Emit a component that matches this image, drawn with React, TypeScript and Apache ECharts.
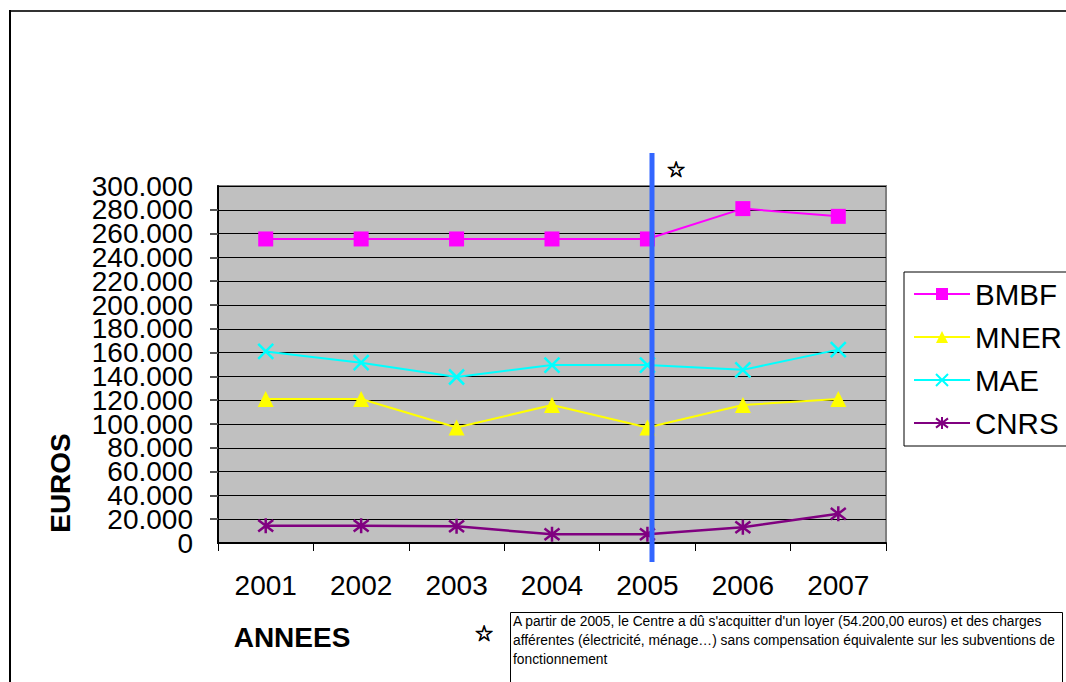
import React, { useEffect, useRef } from "react";
import * as echarts from "echarts";

const years = ["2001", "2002", "2003", "2004", "2005", "2006", "2007"];
const bmbf = [255500, 255500, 255500, 255500, 255500, 281000, 274500];
const mner = [121000, 121000, 97000, 116000, 97000, 116000, 121000];
const mae = [161000, 151500, 139500, 149500, 149500, 145500, 162500];
const cnrs = [14500, 14500, 14000, 7300, 7300, 13300, 24500];
const seriesNames = ["BMBF", "MNER", "MAE", "CNRS"];
const seriesColors = ["#FF00FF", "#FFFF00", "#00FFFF", "#800080"];
const noteLines = [
  "A partir de 2005, le Centre a dû s'acquitter d'un loyer (54.200,00 euros) et des charges",
  "afférentes (électricité, ménage…) sans compensation équivalente sur les subventions de",
  "fonctionnement",
];
const yMin = 0;
const yMax = 300000;
const yStep = 20000;

const FONT = "'Liberation Sans', Arial, sans-serif";

function fmt(v: number): string {
  if (v === 0) return "0";
  const s = String(Math.round(v));
  return s.replace(/\B(?=(\d{3})+(?!\d))/g, ".");
}

export default function App() {
  const ref = useRef<HTMLDivElement>(null);
  useEffect(() => {
    if (!ref.current) return;
    const chart = echarts.init(ref.current, null, { renderer: "svg" });
    const xPath = "path://M0,0L10,10M10,0L0,10";
    const starPath = "path://M0,0L10,10M10,0L0,10M5,-1.5L5,11.5";
    const symbols = ["rect", "triangle", xPath, starPath];
    const sizes = [15, 16, 15, 15];
    const data = [bmbf, mner, mae, cnrs];
    const labelStyle = {
      fontFamily: FONT,
      fontSize: 28,
      color: "#000",
      margin: 25,
      hideOverlap: false,
      formatter: (v: number) => fmt(v),
    };
    chart.setOption({
      animation: false,
      grid: {
        left: 218,
        top: 186,
        width: 668,
        height: 357,
        show: true,
        backgroundColor: "#C0C0C0",
        borderColor: "#808080",
        borderWidth: 2,
      },
      legend: {
        orient: "vertical",
        left: 904,
        top: 272,
        data: seriesNames,
        itemWidth: 56,
        itemHeight: 15,
        itemGap: 13,
        padding: [7, 30, 8, 9],
        borderColor: "#000",
        borderWidth: 1,
        backgroundColor: "#fff",
        textStyle: { fontFamily: FONT, fontSize: 29.5, color: "#000" },
      },
      xAxis: {
        type: "category",
        data: years,
        boundaryGap: true,
        axisLine: { show: true, lineStyle: { color: "#000", width: 2 } },
        axisTick: { show: true, length: 8, lineStyle: { color: "#000", width: 1 } },
        axisLabel: { fontFamily: FONT, fontSize: 28, color: "#000", margin: 28 },
        splitLine: { show: false },
      },
      yAxis: [
        {
          type: "value",
          position: "left",
          offset: 0,
          min: yMin,
          max: yMax,
          interval: yStep,
          axisLine: { show: true, lineStyle: { color: "#000", width: 2 } },
          axisTick: { show: true, length: 8, lineStyle: { color: "#555", width: 2 } },
          axisLabel: { ...labelStyle, showMinLabel: false, showMaxLabel: false },
          splitLine: { show: true, lineStyle: { color: "#000", width: 1 } },
        },
        {
          type: "value",
          position: "left",
          offset: 0,
          min: yMin,
          max: yMax,
          interval: yMax,
          axisLine: { show: false },
          axisTick: { show: false },
          axisLabel: { ...labelStyle, showMinLabel: true, showMaxLabel: true },
          splitLine: { show: false },
        },
      ],
      series: seriesNames.map((name, i) => ({
        name,
        type: "line",
        yAxisIndex: 0,
        data: data[i],
        symbol: symbols[i],
        symbolSize: sizes[i],
        lineStyle: { color: seriesColors[i], width: i === 3 ? 2.5 : 2 },
        itemStyle: {
          color: seriesColors[i],
          borderColor: seriesColors[i],
          borderWidth: i >= 2 ? 2.5 : 0,
        },
        z: 3,
      })),
      graphic: [
        {
          type: "line",
          shape: { x1: 652, y1: 153, x2: 652, y2: 562 },
          style: { stroke: "#3366FF", lineWidth: 5 },
          z: 100,
        },
        {
          type: "text",
          x: 676,
          y: 169,
          style: {
            text: "☆",
            font: "bold 22px 'DejaVu Sans'",
            fill: "#000",
            stroke: "#000",
            lineWidth: 0.8,
            align: "center",
            verticalAlign: "middle",
          },
        },
        {
          type: "text",
          x: 484,
          y: 633,
          style: {
            text: "☆",
            font: "bold 22px 'DejaVu Sans'",
            fill: "#000",
            stroke: "#000",
            lineWidth: 0.8,
            align: "center",
            verticalAlign: "middle",
          },
        },
        {
          type: "text",
          x: 60,
          y: 483,
          rotation: Math.PI / 2,
          style: {
            text: "EUROS",
            font: "bold 28px " + FONT,
            fill: "#000",
            align: "center",
            verticalAlign: "middle",
          },
        },
        {
          type: "text",
          x: 292,
          y: 637,
          style: {
            text: "ANNEES",
            font: "bold 28px " + FONT,
            fill: "#000",
            align: "center",
            verticalAlign: "middle",
          },
        },
        {
          type: "line",
          shape: { x1: 9, y1: 11, x2: 1066, y2: 11 },
          style: { stroke: "#333", lineWidth: 2 },
        },
        {
          type: "line",
          shape: { x1: 10, y1: 10, x2: 10, y2: 682 },
          style: { stroke: "#000", lineWidth: 2 },
        },
        {
          type: "rect",
          shape: { x: 510.5, y: 612.5, width: 552, height: 80 },
          style: { fill: "#fff", stroke: "#000", lineWidth: 1 },
        },
        {
          type: "text",
          x: 513,
          y: 612,
          style: {
            text: noteLines.join("\n"),
            font: "13.8px " + FONT,
            lineHeight: 19,
            fill: "#000",
          },
        },
      ],
    });
    return () => chart.dispose();
  }, []);
  return (
    <div
      ref={ref}
      style={{ position: "absolute", left: 0, top: 0, width: 1066, height: 682, background: "#fff" }}
    />
  );
}
